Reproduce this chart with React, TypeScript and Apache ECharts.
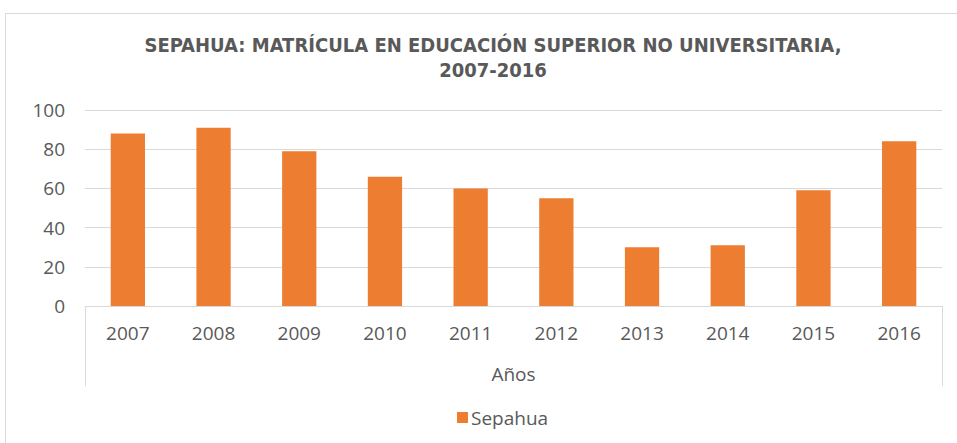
import React, { useEffect, useRef } from "react";
import * as echarts from "echarts";

const categories = ["2007", "2008", "2009", "2010", "2011", "2012", "2013", "2014", "2015", "2016"];
const values = [88, 91, 79, 66, 60, 55, 30, 31, 59, 84];
const yTicks = [0, 20, 40, 60, 80, 100];
const seriesName = "Sepahua";
const titleText = "SEPAHUA: MATRÍCULA EN EDUCACIÓN SUPERIOR NO UNIVERSITARIA,\n2007-2016";
const xAxisName = "Años";

export default function App() {
  const ref = useRef<HTMLDivElement>(null);
  useEffect(() => {
    if (!ref.current) return;
    const chart = echarts.init(ref.current, null, { renderer: "svg" });
    const gridLeft = 85, gridRight = 15, gridTop = 110, gridBottom = 137;
    const W = 957, H = 443;
    const font = "Open Sans, sans-serif";
    chart.setOption({
      animation: false,
      backgroundColor: "#ffffff",
      title: {
        text: titleText,
        left: 488,
        textAlign: "center",
        top: 27,
        textStyle: {
          fontFamily: "Liberation Sans Narrow, DejaVu Sans Condensed, Liberation Sans, sans-serif",
          fontWeight: "bold",
          fontSize: 20,
          color: "#595959",
          lineHeight: 25,
        },
      },
      legend: {
        data: [seriesName],
        top: 403,
        left: 452,
        icon: "rect",
        itemWidth: 11,
        itemHeight: 11,
        itemGap: 4,
        textStyle: { fontFamily: font, fontSize: 19, color: "#595959", padding: [0, 0, 0, -2] },
      },
      grid: { left: gridLeft, right: gridRight, top: gridTop, bottom: gridBottom, containLabel: false },
      xAxis: {
        type: "category",
        data: categories,
        name: xAxisName,
        nameLocation: "middle",
        nameGap: 58,
        nameTextStyle: { fontFamily: font, fontSize: 19, color: "#595959" },
        axisLine: { show: true, lineStyle: { color: "#d9d9d9", width: 1 } },
        axisTick: { show: false },
        axisLabel: { margin: 17, fontFamily: font, fontSize: 19, color: "#595959" },
      },
      yAxis: {
        type: "value",
        min: 0,
        max: 100,
        interval: 20,
        axisLine: { show: false },
        axisTick: { show: false },
        axisLabel: {
          margin: 20,
          fontFamily: font,
          fontSize: 19,
          color: "#595959",
          formatter: (v: number) => (yTicks.includes(v) ? String(v) : ""),
        },
        splitLine: { lineStyle: { color: "#d9d9d9", width: 1 } },
      },
      graphic: [
        {
          type: "rect",
          shape: { x: 5.5, y: 13.5, width: W, height: H },
          style: { fill: "none", stroke: "#d9d9d9", lineWidth: 1 },
          silent: true,
        },
        {
          type: "line",
          shape: { x1: gridLeft + 0.5, y1: H - gridBottom, x2: gridLeft + 0.5, y2: 386 },
          style: { stroke: "#d9d9d9", lineWidth: 1 },
          silent: true,
        },
        {
          type: "line",
          shape: { x1: W - gridRight + 0.5, y1: H - gridBottom, x2: W - gridRight + 0.5, y2: 386 },
          style: { stroke: "#d9d9d9", lineWidth: 1 },
          silent: true,
        },
      ],
      series: [
        {
          name: seriesName,
          type: "bar",
          data: values,
          barWidth: "40%",
          itemStyle: { color: "#ed7d31" },
        },
      ],
    });
    return () => chart.dispose();
  }, []);
  return <div ref={ref} style={{ position: "fixed", left: 0, top: 0, width: 957, height: 443 }} />;
}
